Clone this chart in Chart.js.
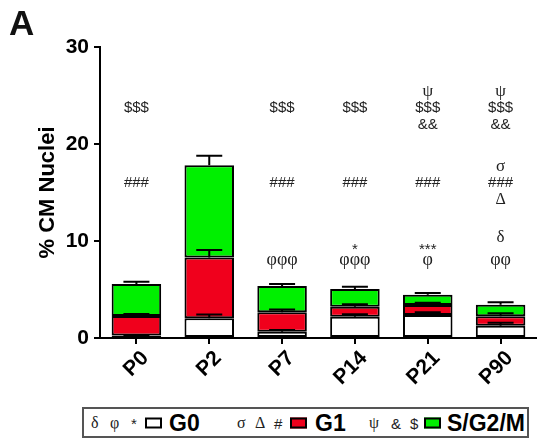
<!DOCTYPE html>
<html>
<head>
<meta charset="utf-8">
<script src="https://cdn.jsdelivr.net/npm/chart.js@4.4.0/dist/chart.umd.min.js"></script>
<style>
	html, body { margin: 0; padding: 0; background: #fff; }
	#wrap { position: relative; width: 537px; height: 443px; overflow: hidden; }
	#chart-box { position: absolute; left: 0; top: 0; width: 537px; height: 405px; }
	#panel { position: absolute; left: 9px; top: 5px; font: bold 35px 'Liberation Sans', Arial, sans-serif; color: #111; line-height: 35px; }
	.legend { position: absolute; left: 82px; top: 407px; width: 447px; height: 31px; box-sizing: border-box; border: 2px solid #555; }
	.legend span { position: absolute; top: 50%; transform: translateY(-50%); color: #222; }
	.legend .sym { font: 16px 'Liberation Serif', 'Times New Roman', serif; }
	.legend .sans { font: 15px 'Liberation Sans', Arial, sans-serif; }
	.legend .name { font: bold 23px 'Liberation Sans', Arial, sans-serif; color: #000; }
	.legend .sw { width: 13px; height: 7px; border: 2px solid #000; }
</style>
</head>
<body>
<div id="wrap">
	<div id="chart-box"><canvas id="chart"></canvas></div>
	<div id="panel">A</div>
	<div class="legend">
		<span class="sym" style="left:7px">δ</span>
		<span class="sym" style="left:26px">φ</span>
		<span class="sans" style="left:47px">*</span>
		<span class="sw" style="left:61px;background:#fff"></span>
		<span class="name" style="left:85px">G0</span>
		<span class="sym" style="left:153px">σ</span>
		<span class="sym" style="left:171px">Δ</span>
		<span class="sans" style="left:190px">#</span>
		<span class="sw" style="left:206px;background:#f0001c"></span>
		<span class="name" style="left:231px">G1</span>
		<span class="sym" style="left:285px">ψ</span>
		<span class="sans" style="left:307px">&amp;</span>
		<span class="sans" style="left:326px">$</span>
		<span class="sw" style="left:340px;background:#00f000"></span>
		<span class="name" style="left:363px">S/G2/M</span>
	</div>
</div>
<script>
// ── Data ──────────────────────────────────────────────────────────────────────

const categories = ['P0', 'P2', 'P7', 'P14', 'P21', 'P90'];

// stacked segment heights (% CM nuclei)
const g0Values = [0.25, 2.03, 0.65, 2.2, 2.37, 1.27];
const g1Values = [2.02, 6.27, 2.0, 1.03, 1.03, 0.97];
const sg2mValues = [3.3, 9.5, 2.71, 1.82, 1.07, 1.19];

// upward SEM for each segment
const g0Err = [0.05, 0.4, 0.17, 0.24, 0.28, 0.3];
const g1Err = [0.2, 0.77, 0.3, 0.24, 0.24, 0.3];
const sg2mErr = [0.23, 1.0, 0.2, 0.24, 0.17, 0.25];

const yMin = 0;
const yMax = 30;
const yStep = 10;

// significance marks above each bar, one row per symbol
const psiMarks = ['', '', '', '', 'ψ', 'ψ'];
const dollarMarks = ['$$$', '', '$$$', '$$$', '$$$', '$$$'];
const ampMarks = ['', '', '', '', '&&', '&&'];
const sigmaMarks = ['', '', '', '', '', 'σ'];
const hashMarks = ['###', '', '###', '###', '###', '###'];
const bigDeltaMarks = ['', '', '', '', '', 'Δ'];
const deltaMarks = ['', '', '', '', '', 'δ'];
const starMarks = ['', '', '', '*', '***', ''];
const phiMarks = ['', '', 'φφφ', 'φφφ', 'φ', 'φφ'];
// value level of each row above
const markLevels = [25.4, 23.7, 22.0, 17.7, 16.0, 14.2, 10.4, 9.1, 8.0];

// ── Plugins ───────────────────────────────────────────────────────────────────

const SERIF = "'Liberation Serif', 'Times New Roman', serif";
const SANS = "'Liberation Sans', Arial, sans-serif";

const errorBars = {
	id: 'errorBars',
	afterDatasetsDraw(chart) {
		const { ctx, scales } = chart;
		const y = scales.y;
		const errs = [g0Err, g1Err, sg2mErr];
		const cap = 13;
		ctx.save();
		ctx.strokeStyle = '#000';
		ctx.lineWidth = 2;
		chart.data.datasets.forEach((ds, d) => {
			const meta = chart.getDatasetMeta(d);
			meta.data.forEach((bar, i) => {
				let top = 0;
				for (let k = 0; k <= d; k++) top += chart.data.datasets[k].data[i];
				const y0 = y.getPixelForValue(top);
				const y1 = y.getPixelForValue(top + errs[d][i]);
				ctx.beginPath();
				ctx.moveTo(bar.x, y0);
				ctx.lineTo(bar.x, y1);
				ctx.moveTo(bar.x - cap, y1);
				ctx.lineTo(bar.x + cap, y1);
				ctx.stroke();
			});
		});
		ctx.restore();
	},
};

const sigMarks = {
	id: 'sigMarks',
	afterDatasetsDraw(chart) {
		const { ctx, scales } = chart;
		const rows = [
			[psiMarks, SERIF, 17],
			[dollarMarks, SANS, 15],
			[ampMarks, SANS, 15],
			[sigmaMarks, SERIF, 17],
			[hashMarks, SANS, 15],
			[bigDeltaMarks, SERIF, 16],
			[deltaMarks, SERIF, 17],
			[starMarks, SANS, 15],
			[phiMarks, SERIF, 18],
		];
		ctx.save();
		ctx.fillStyle = '#222';
		ctx.textAlign = 'center';
		ctx.textBaseline = 'middle';
		rows.forEach(([marks, family, size], r) => {
			ctx.font = `${size}px ${family}`;
			const py = scales.y.getPixelForValue(markLevels[r]);
			marks.forEach((m, i) => {
				if (!m) return;
				ctx.fillText(m, scales.x.getPixelForValue(i), py);
			});
		});
		ctx.restore();
	},
};

// ── Chart ─────────────────────────────────────────────────────────────────────

const barStyle = {
	borderColor: '#000',
	borderWidth: 2,
	borderSkipped: false,
	barPercentage: 0.68,
	categoryPercentage: 1,
};

new Chart(document.getElementById('chart'), {
	type: 'bar',
	data: {
		labels: categories,
		datasets: [
			{ label: 'G0', data: g0Values, backgroundColor: '#ffffff', ...barStyle },
			{ label: 'G1', data: g1Values, backgroundColor: '#f0001c', ...barStyle },
			{ label: 'S/G2/M', data: sg2mValues, backgroundColor: '#00f000', ...barStyle },
		],
	},
	options: {
		responsive: true,
		maintainAspectRatio: false,
		animation: false,
		layout: { padding: { top: 47, left: 0, right: -4, bottom: 7 } },
		plugins: {
			legend: { display: false },
			tooltip: { enabled: false },
		},
		scales: {
			x: {
				stacked: true,
				afterFit: (s) => {
					s.height = 60;
					s.paddingLeft = 0;
					s.paddingRight = 0;
				},
				grid: { display: true, drawOnChartArea: false, offset: false, color: '#000', lineWidth: 2, tickLength: 6 },
				border: { display: true, color: '#000', width: 2 },
				ticks: {
					color: '#000',
					font: { family: SANS, size: 21, weight: 'bold' },
					minRotation: 45,
					maxRotation: 45,
					labelOffset: 9,
					padding: 2,
				},
			},
			y: {
				stacked: true,
				min: yMin,
				max: yMax,
				afterFit: (s) => { s.width = 100; },
				grid: { display: true, drawOnChartArea: false, color: '#000', lineWidth: 2, tickLength: 6 },
				border: { display: true, color: '#000', width: 2 },
				ticks: {
					stepSize: yStep,
					color: '#000',
					padding: 5,
					font: { family: SANS, size: 21, weight: 'bold' },
				},
				title: {
					display: true,
					text: '% CM Nuclei',
					color: '#000',
					font: { family: SANS, size: 22, weight: 'bold' },
					padding: { top: 35, bottom: 0 },
				},
			},
		},
	},
	plugins: [errorBars, sigMarks],
});
</script>
</body>
</html>
